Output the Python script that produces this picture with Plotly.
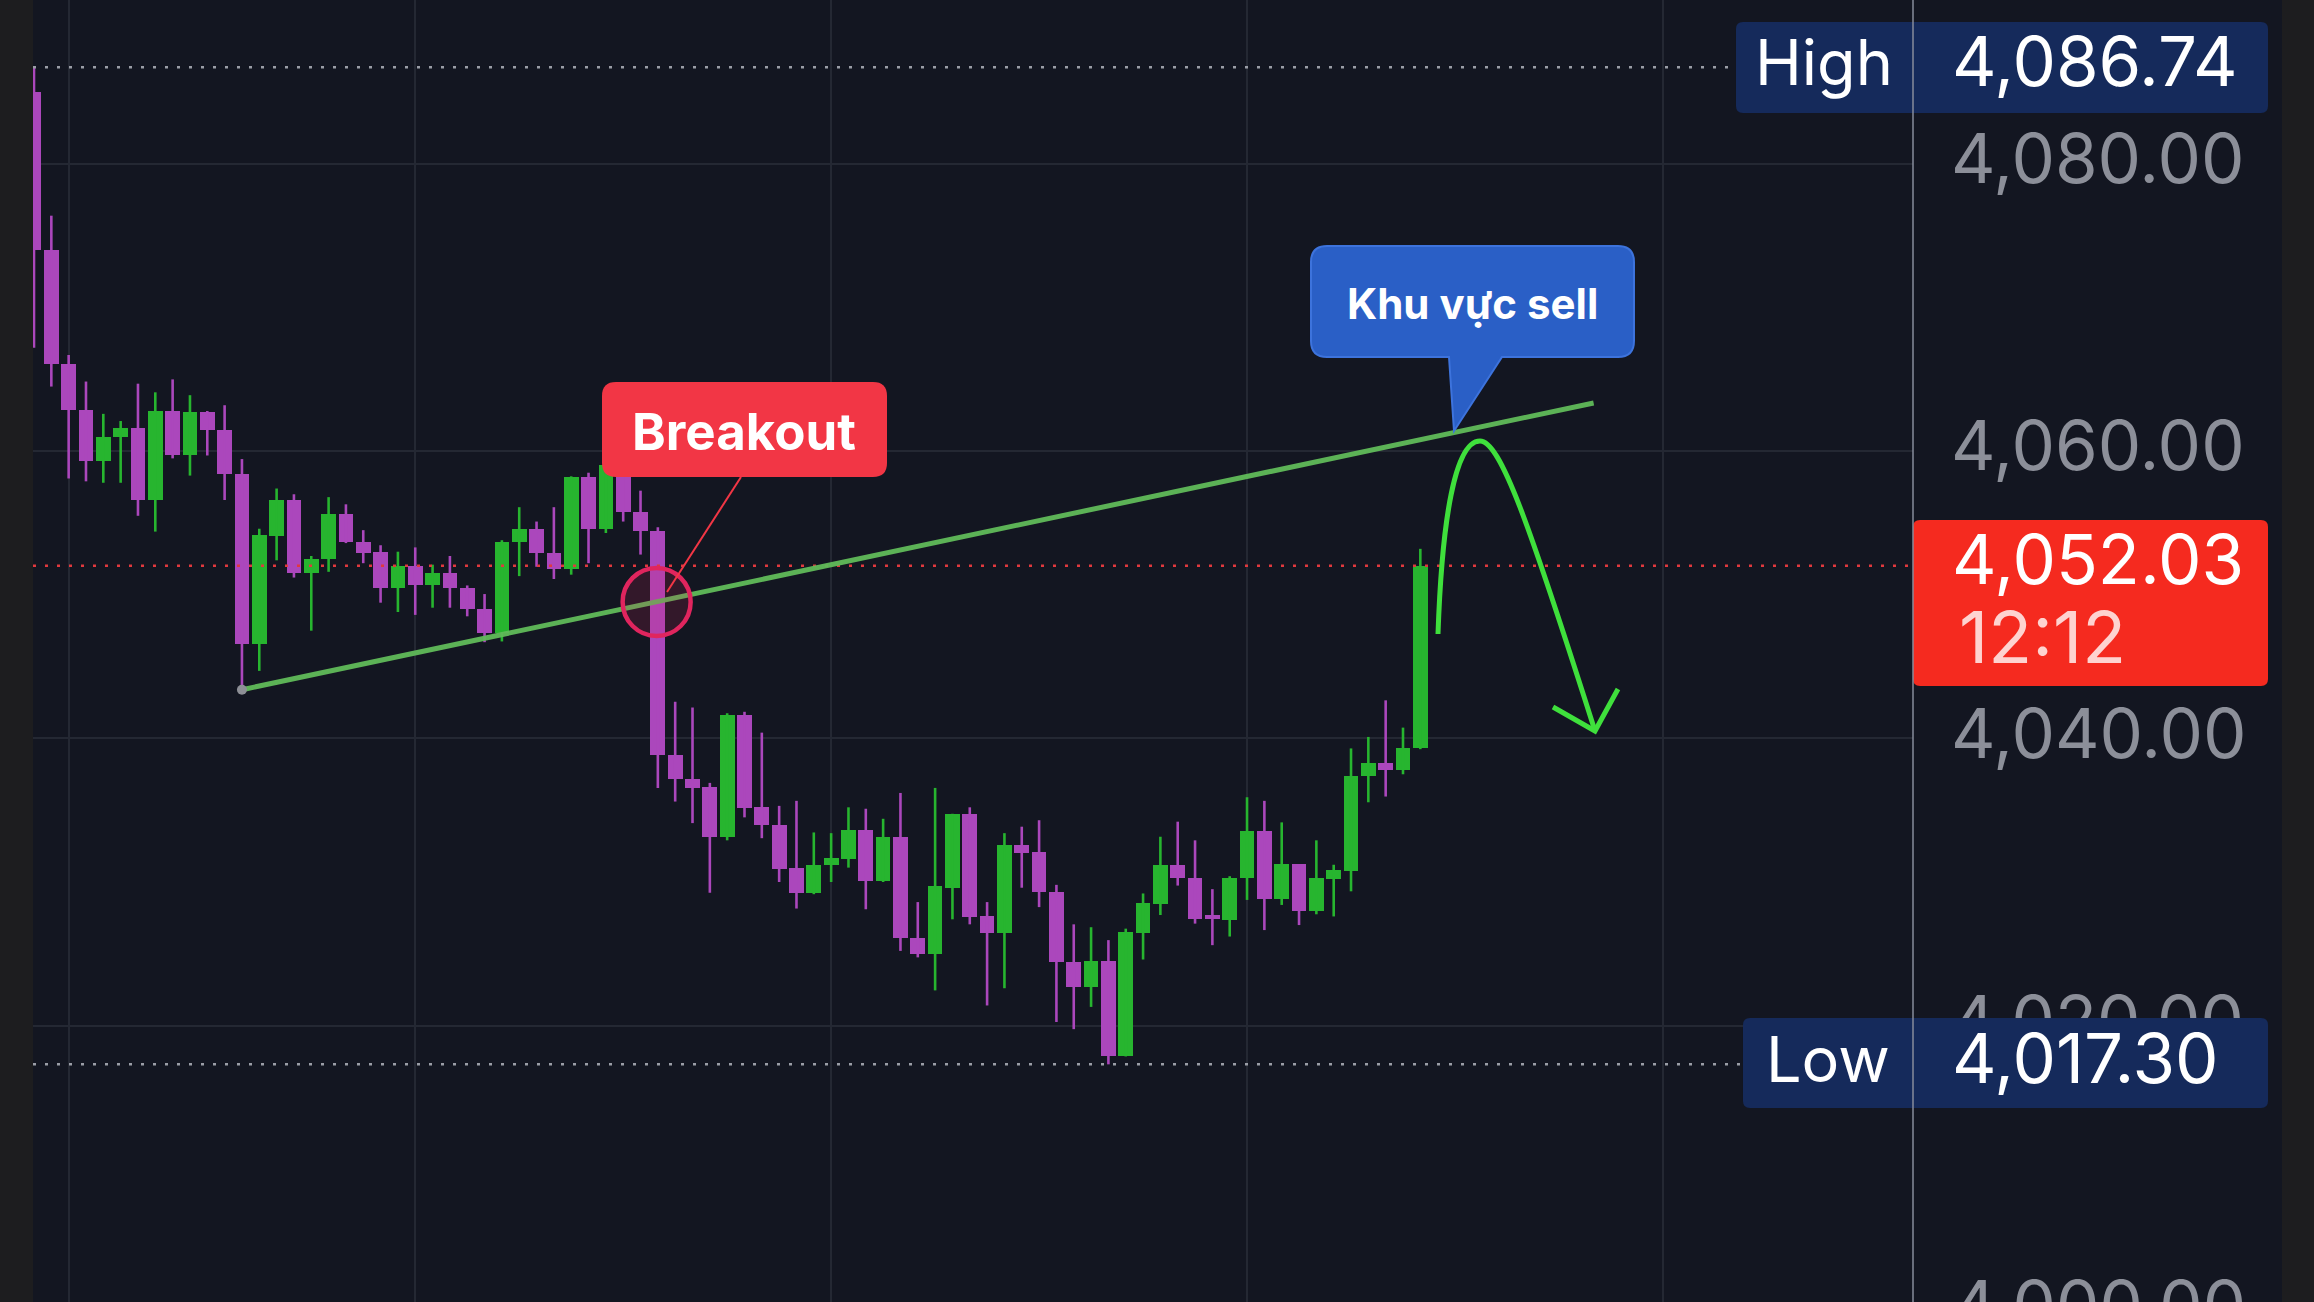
import plotly.graph_objects as go

W, H = 2314, 1302

# ---------------- data ----------------
opens = [4085.0, 4074.0, 4066.1, 4062.9, 4059.3, 4061.0, 4061.6, 4056.6, 4062.8, 4059.7,
         4062.7, 4061.5, 4058.4, 4046.6, 4054.1, 4056.6, 4051.5, 4052.5, 4055.6, 4053.7,
         4053.0, 4050.45, 4052.0, 4050.7, 4051.5, 4050.5, 4049.0, 4047.35, 4053.65, 4054.6,
         4052.9, 4051.8, 4058.2, 4054.6, 4059.05, 4055.75, 4054.45, 4038.85, 4037.15, 4036.6,
         4033.1, 4041.6, 4035.2, 4034.0, 4030.95, 4029.2, 4031.15, 4031.6, 4033.65, 4030.05,
         4033.15, 4026.1, 4025.0, 4029.6, 4034.7, 4027.6, 4026.45, 4032.6, 4032.1, 4029.3,
         4024.45, 4022.7, 4024.5, 4017.9, 4026.45, 4028.5, 4031.15, 4030.3, 4027.6, 4027.35,
         4030.25, 4033.55, 4028.8, 4031.25, 4027.95, 4030.2, 4030.75, 4037.35, 4038.3, 4037.8,
         4039.3]
highs = [4086.74, 4076.4, 4066.7, 4064.85, 4062.6, 4062.1, 4064.7, 4064.1, 4065.0, 4063.9,
         4062.8, 4063.2, 4059.45, 4054.6, 4057.4, 4057.0, 4052.7, 4056.8, 4056.3, 4054.5,
         4053.45, 4053.0, 4053.3, 4052.1, 4052.7, 4050.65, 4050.05, 4053.8, 4056.1, 4055.1,
         4056.1, 4058.25, 4058.5, 4060.65, 4062.0, 4057.25, 4054.7, 4042.55, 4042.15, 4036.9,
         4041.75, 4041.85, 4040.4, 4035.3, 4035.65, 4033.45, 4033.4, 4035.2, 4035.1, 4034.4,
         4036.2, 4028.6, 4036.55, 4034.75, 4035.2, 4028.6, 4033.4, 4033.85, 4034.3, 4029.8,
         4027.05, 4026.85, 4025.95, 4026.75, 4029.2, 4033.15, 4034.2, 4032.9, 4029.5, 4030.4,
         4035.9, 4035.65, 4034.15, 4031.25, 4032.9, 4031.2, 4039.3, 4040.1, 4042.65, 4040.75,
         4053.2]
lows = [4067.2, 4064.5, 4058.1, 4057.9, 4057.8, 4057.8, 4055.5, 4054.4, 4059.5, 4058.3,
        4059.7, 4056.6, 4043.4, 4044.7, 4052.4, 4051.2, 4047.5, 4051.6, 4053.6, 4052.2,
        4049.45, 4048.8, 4048.6, 4049.1, 4049.1, 4048.5, 4046.7, 4046.75, 4051.3, 4051.95,
        4051.1, 4051.4, 4052.2, 4054.3, 4055.1, 4052.8, 4036.55, 4035.6, 4034.1, 4029.25,
        4032.9, 4034.5, 4033.05, 4030.0, 4028.15, 4029.15, 4030.0, 4031.0, 4028.1, 4030.0,
        4025.2, 4024.75, 4022.45, 4027.4, 4027.05, 4021.4, 4022.6, 4029.6, 4028.25, 4020.25,
        4019.75, 4021.3, 4017.3, 4017.85, 4024.6, 4027.7, 4029.75, 4027.1, 4025.6, 4026.2,
        4028.75, 4026.65, 4028.4, 4027.0, 4027.75, 4027.6, 4029.35, 4035.55, 4035.95, 4037.5,
        4039.25]
closes = [4074.0, 4066.1, 4062.9, 4059.3, 4061.0, 4061.6, 4056.6, 4062.8, 4059.7, 4062.7,
          4061.5, 4058.4, 4046.6, 4054.15, 4056.6, 4051.5, 4052.5, 4055.6, 4053.65, 4052.9,
          4050.45, 4052.0, 4050.7, 4051.5, 4050.45, 4049.0, 4047.35, 4053.7, 4054.6, 4052.9,
          4051.8, 4058.2, 4054.6, 4059.05, 4055.75, 4054.45, 4038.85, 4037.15, 4036.55, 4033.1,
          4041.6, 4035.15, 4033.95, 4030.9, 4029.2, 4031.2, 4031.65, 4033.65, 4030.05, 4033.15,
          4026.1, 4025.0, 4029.7, 4034.7, 4027.55, 4026.45, 4032.6, 4032.05, 4029.3, 4024.4,
          4022.7, 4024.5, 4017.9, 4026.5, 4028.55, 4031.15, 4030.3, 4027.45, 4027.45, 4030.3,
          4033.55, 4028.8, 4031.25, 4027.95, 4030.25, 4030.8, 4037.4, 4038.3, 4037.8, 4039.35,
          4052.03]
candle_idx = list(range(len(opens)))

price_ticks = [4020, 4040, 4060, 4080]
extra_tick = 4000
time_grid = [2, 22, 46, 70, 94]

session_high = 4086.74
session_low = 4017.30
last_price = 4052.03
countdown = "12:12"

trend_start = (12, 4043.39)
trend_end = (90, 4063.36)
breakout_point = (35.93, 4049.5)

# ---------------- style ----------------
BG = "#131621"
STRIP = "#1d1d1f"
GRID = "#242833"
GREEN = "#27b52f"
PURPLE = "#ab47bc"
AXIS_TXT = "#8c8f99"
RED_BOX = "#f52a1f"
NAVY = "#152a5b"
FONT = "Inter"
PRICE_SIZE = 69

Y_LO, Y_HI = 4000.75, 4091.42
X_LO, X_HI = -0.0577, 108.43
PX0, PX1 = 33, 1913


def px(x):
    return x / W


def py(y):
    return 1 - y / H


def pt(x, y):
    return f"{px(x):.6f},{py(y):.6f}"


def rrect(x0, y0, x1, y1, r, pointer=None):
    s = f"M{pt(x0 + r, y0)} L{pt(x1 - r, y0)} Q{pt(x1, y0)} {pt(x1, y0 + r)} "
    s += f"L{pt(x1, y1 - r)} Q{pt(x1, y1)} {pt(x1 - r, y1)} "
    if pointer:
        (bx1, bx0, tx, ty) = pointer
        s += f"L{pt(bx1, y1)} L{pt(tx, ty)} L{pt(bx0, y1)} "
    s += f"L{pt(x0 + r, y1)} Q{pt(x0, y1)} {pt(x0, y1 - r)} "
    s += f"L{pt(x0, y0 + r)} Q{pt(x0, y0)} {pt(x0 + r, y0)} Z"
    return s


fig = go.Figure()

up = [c >= o for o, c in zip(opens, closes)]
body_base = [min(o, c) for o, c in zip(opens, closes)]
body_h = [max(abs(c - o), 0.22) for o, c in zip(opens, closes)]
fig.add_bar(x=candle_idx, y=body_h, base=body_base, width=0.85,
            marker=dict(color=[GREEN if u else PURPLE for u in up], line=dict(width=0)),
            hoverinfo="skip", showlegend=False)

for col, flag in ((GREEN, True), (PURPLE, False)):
    xs, ys = [], []
    for i in candle_idx:
        if up[i] == flag:
            xs += [i, i, None]
            ys += [lows[i], highs[i], None]
    fig.add_scatter(x=xs, y=ys, mode="lines", line=dict(color=col, width=2.6),
                    hoverinfo="skip", showlegend=False)

shapes = []
# price-scale panel background
shapes.append(dict(type="rect", xref="paper", yref="paper", x0=px(PX1), x1=px(2282), y0=0, y1=1,
                   fillcolor=BG, line=dict(width=0), layer="below"))
# dotted horizontal price lines
DOT = "3px,9px"
shapes.append(dict(type="line", xref="paper", yref="y", x0=px(PX0), x1=px(1736), y0=session_high,
                   y1=session_high, line=dict(color="#9a9da6", width=2.5, dash=DOT), layer="above"))
shapes.append(dict(type="line", xref="paper", yref="y", x0=px(PX0), x1=px(PX1), y0=last_price,
                   y1=last_price, line=dict(color="#e0393e", width=2.5, dash=DOT), layer="above"))
shapes.append(dict(type="line", xref="paper", yref="y", x0=px(PX0), x1=px(1743), y0=session_low,
                   y1=session_low, line=dict(color="#9a9da6", width=2.5, dash=DOT), layer="above"))
# trend line
shapes.append(dict(type="line", xref="x", yref="y", x0=trend_start[0], y0=trend_start[1],
                   x1=trend_end[0], y1=trend_end[1], line=dict(color="rgba(96,186,90,0.95)", width=5),
                   layer="above"))
shapes.append(dict(type="circle", xref="x", yref="y", xsizemode="pixel", ysizemode="pixel",
                   xanchor=trend_start[0], yanchor=trend_start[1], x0=-5, x1=5, y0=-5, y1=5,
                   fillcolor="#8d8f96", line=dict(width=0), layer="above"))
# breakout circle
shapes.append(dict(type="circle", xref="x", yref="y", xsizemode="pixel", ysizemode="pixel",
                   xanchor=breakout_point[0], yanchor=breakout_point[1], x0=-34, x1=34, y0=-34, y1=34,
                   fillcolor="rgba(225,35,95,0.16)", line=dict(color="#e0255e", width=4.5),
                   layer="above"))
# breakout label + pointer
shapes.append(dict(type="line", xref="paper", yref="paper", x0=px(741), y0=py(477), x1=px(667),
                   y1=py(592), line=dict(color="#f23645", width=2), layer="above"))
shapes.append(dict(type="path", xref="paper", yref="paper", path=rrect(602, 382, 887, 477, 14),
                   fillcolor="#f23645", line=dict(width=0), layer="above"))
# sell zone callout
shapes.append(dict(type="path", xref="paper", yref="paper",
                   path=rrect(1311, 246, 1634, 357, 16, pointer=(1502, 1449, 1454, 431)),
                   fillcolor="#2a5fc6", line=dict(color="#3d73dc", width=2), layer="above"))
# hand-drawn curved arrow
curve = (f"M{pt(1438, 634)} C{pt(1442, 520)} {pt(1455, 441)} {pt(1480, 441)} "
         f"C{pt(1500, 441)} {pt(1528, 520)} {pt(1595, 731)}")
shapes.append(dict(type="path", xref="paper", yref="paper", path=curve,
                   line=dict(color="#3fe03c", width=5), layer="above"))
shapes.append(dict(type="path", xref="paper", yref="paper",
                   path=f"M{pt(1553, 707)} L{pt(1595, 731)} L{pt(1618, 689)}",
                   line=dict(color="#3fe03c", width=5), layer="above"))
# price scale boxes
shapes.append(dict(type="path", xref="paper", yref="paper", path=rrect(1736, 22, 2268, 113, 7),
                   fillcolor=NAVY, line=dict(width=0), layer="above"))
shapes.append(dict(type="path", xref="paper", yref="paper", path=rrect(1743, 1018, 2268, 1108, 7),
                   fillcolor=NAVY, line=dict(width=0), layer="above"))
shapes.append(dict(type="path", xref="paper", yref="paper", path=rrect(1913, 520, 2268, 686, 7),
                   fillcolor=RED_BOX, line=dict(width=0), layer="above"))
# price scale divider
shapes.append(dict(type="line", xref="paper", yref="paper", x0=px(PX1), x1=px(PX1), y0=0, y1=1,
                   line=dict(color="rgba(135,140,155,0.75)", width=2), layer="above"))


def txt(text, x, y, size, color="white", weight="normal", anchor="left"):
    return dict(text=text, xref="paper", yref="paper", x=px(x), y=py(y), xanchor=anchor,
                yanchor="middle", showarrow=False,
                font=dict(family=FONT, size=size, color=color, weight=weight))


annotations = [
    txt("Breakout", 744, 431, 51, weight="bold", anchor="center"),
    txt("Khu vực sell", 1472, 304, 42, weight="bold", anchor="center"),
    txt("High", 1753, 62, 63),
    txt(f"{session_high:,.2f}", 1950, 61, PRICE_SIZE),
    txt("Low", 1764, 1059, 63),
    txt(f"{session_low:,.2f}", 1950, 1058, PRICE_SIZE),
    txt(f"{last_price:,.2f}", 1950, 559, PRICE_SIZE),
    txt(countdown, 1957, 636, 72, color="rgba(255,235,233,0.88)"),
    txt(f"{extra_tick:,.2f}", 1950, 1305, PRICE_SIZE, color=AXIS_TXT),
]

fig.update_layout(
    template="none",
    width=W, height=H,
    margin=dict(l=0, r=0, t=0, b=0, pad=0),
    paper_bgcolor=STRIP,
    plot_bgcolor=BG,
    showlegend=False,
    bargap=0,
    xaxis=dict(domain=[px(PX0), px(PX1)], range=[X_LO, X_HI], tickvals=time_grid,
               showticklabels=False, showgrid=True, gridcolor=GRID, gridwidth=2,
               zeroline=False, showline=False, ticks="", automargin=False, fixedrange=True),
    yaxis=dict(range=[Y_LO, Y_HI], side="right", tickvals=price_ticks, tickformat=",.2f",
               tickfont=dict(family=FONT, size=PRICE_SIZE, color=AXIS_TXT), showgrid=True,
               gridcolor=GRID, gridwidth=2, zeroline=False, showline=False, ticks="",
               ticklabelstandoff=37, ticklabelshift=-5, automargin=False, fixedrange=True),
    shapes=shapes,
    annotations=annotations,
)

fig.write_html("out.html", config={"displayModeBar": False},
               post_script="document.body.style.margin='0px';")
